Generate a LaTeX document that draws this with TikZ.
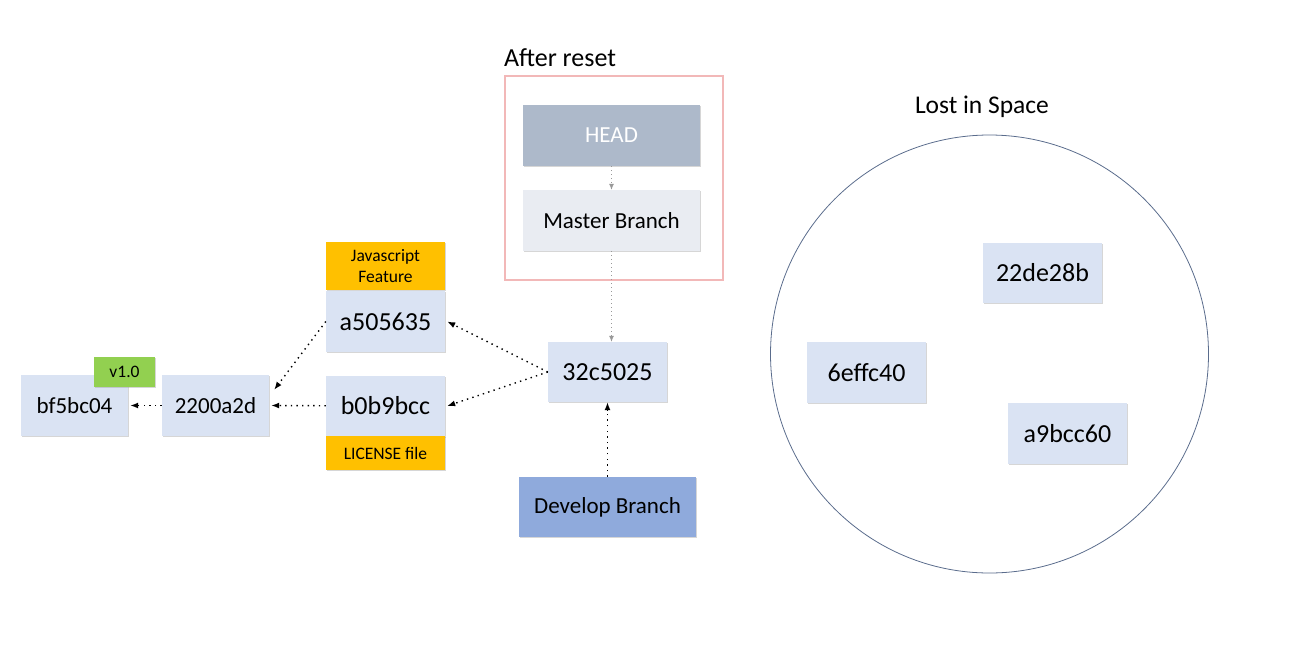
\documentclass[tikz,border=0pt]{standalone}
\usepackage{fontspec}
\setmainfont{Carlito}
\usetikzlibrary{arrows.meta,shadows}
\definecolor{commitblue}{HTML}{DAE3F3}
\definecolor{taggreen}{HTML}{92D050}
\definecolor{tagorange}{HTML}{FFC000}
\definecolor{devblue}{HTML}{8FAADC}
\definecolor{headgray}{HTML}{ADB9CA}
\definecolor{mastergray}{HTML}{E9ECF2}
\definecolor{framered}{HTML}{F2B8B8}
\definecolor{spaceblue}{HTML}{5A6C8C}
\begin{document}
\begin{tikzpicture}[x=1pt,y=-1pt,
  box/.style={inner sep=0pt,minimum width=119pt,minimum height=61pt,
    drop shadow={shadow xshift=1.3pt,shadow yshift=-1.3pt,fill=black!40,opacity=0.4}},
  commit/.style={box,fill=commitblue,font=\fontsize{26}{30}\selectfont},
  oldcommit/.style={commit,minimum width=107pt,font=\fontsize{23}{27}\selectfont},
  tag/.style={box,minimum height=34pt,font=\fontsize{17.5}{21}\selectfont},
  branch/.style={box,minimum width=177pt,font=\fontsize{23}{27}\selectfont},
  ref/.style={-{Latex[length=8pt,width=6pt]},line width=1.4pt,dash pattern=on 1.4pt off 4.2pt},
  headref/.style={-{Latex[length=6pt,width=5pt]},line width=0.8pt,gray!80,dash pattern=on 0.8pt off 3.2pt}]
\useasboundingbox (0,0) rectangle (1306,659);
\node (resetlbl) at (560,58) {\fontsize{26}{30}\selectfont After reset};
\draw[framered,line width=1.3pt] (505,76) rectangle (723,280);
\node[branch,fill=headgray,text=white] (head) at (611.5,135.5) {HEAD};
\node[branch,fill=mastergray] (master) at (611.5,220.5) {Master Branch};
\node[oldcommit] (bf5) at (74.5,405.5) {bf5bc04};
\node[tag,fill=taggreen,minimum width=61pt,minimum height=30pt] (v10) at (124.5,372) {v1.0};
\node[oldcommit] (c2200) at (215.5,405.5) {2200a2d};
\node[commit] (a505) at (385.5,321.5) {a505635};
\node[tag,fill=tagorange,minimum height=48pt,align=center] (jsfeat) at (385.5,266) {Javascript\\Feature};
\node[commit] (b0b) at (385.5,406) {b0b9bcc};
\node[tag,fill=tagorange] (license) at (385.5,453) {LICENSE file};
\node[commit,minimum height=60pt] (p32) at (607.5,372) {32c5025};
\node[branch,fill=devblue,minimum height=60pt] (develop) at (607.5,507) {Develop Branch};
\node (spacelbl) at (982,107) {\fontsize{25.5}{30}\selectfont Lost in Space};
\draw[spaceblue,line width=0.8pt] (989.5,354) circle [radius=219];
\node[commit,minimum height=60pt] (c22d) at (1042.5,273) {22de28b};
\node[commit] (c6ef) at (866.5,372.5) {6effc40};
\node[commit] (ca9b) at (1067.5,433.5) {a9bcc60};
\draw[headref] (head) -- (master);
\draw[headref] (master.south) -- (master.south |- p32.north);
\draw[ref] (develop) -- (p32);
\draw[ref] (p32.west) -- ([xshift=2pt]a505.east);
\draw[ref] (p32.west) -- ([xshift=2pt]b0b.east);
\draw[ref] (a505.west) -- ([xshift=5pt,yshift=-15pt]c2200.north east);
\draw[ref] (b0b) -- ([xshift=2pt]c2200.east);
\draw[ref] (c2200) -- ([xshift=2pt]bf5.east);
\end{tikzpicture}
\end{document}
